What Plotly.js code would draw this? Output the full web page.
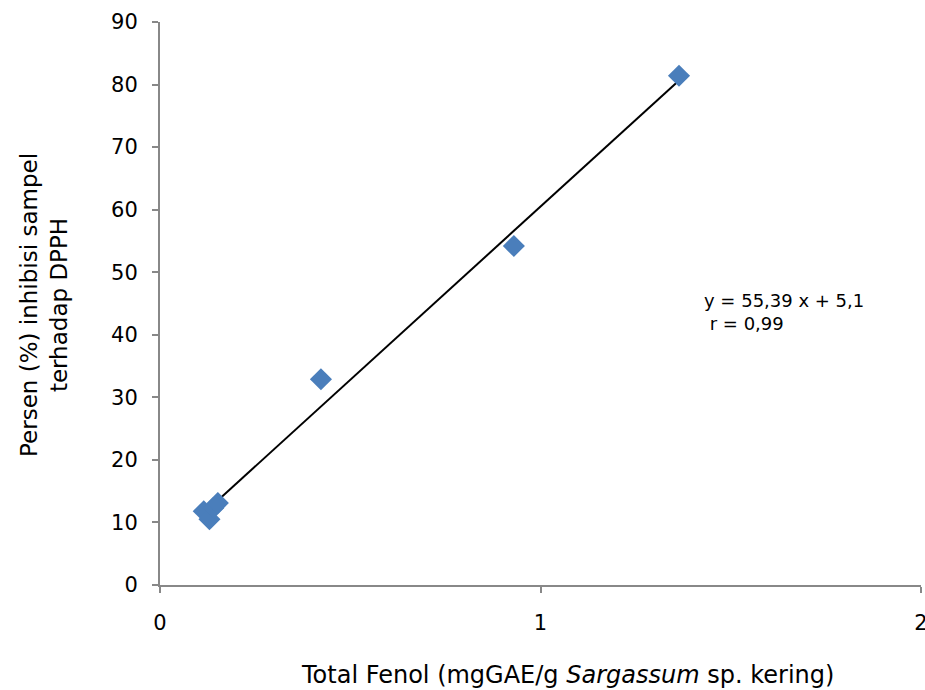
<!DOCTYPE html>
<html>
<head>
<meta charset="utf-8">
<script src="https://cdn.plot.ly/plotly-3.0.1.min.js"></script>
<style>html,body{margin:0;padding:0;background:#fff;}#chart{width:925px;height:690px;}</style>
</head>
<body>
<div id="chart"></div>
<script>
// Data
const totalFenol = [0.115, 0.130, 0.140, 0.152, 0.423, 0.930, 1.364];
const inhibisi   = [11.8, 10.5, 12.3, 13.1, 32.9, 54.2, 81.4];
const slope = 55.39;
const intercept = 5.1;
const eqLines = ["y = 55,39 x + 5,1", " r = 0,99"];

const xMin = Math.min(...totalFenol);
const xMax = Math.max(...totalFenol);
const trendX = [xMin, xMax];
const trendY = trendX.map(v => slope * v + intercept);

const font = "'DejaVu Sans', sans-serif";

const traces = [
  {
    x: trendX, y: trendY, type: "scatter", mode: "lines",
    line: {color: "#000000", width: 2},
    hoverinfo: "skip", showlegend: false
  },
  {
    x: totalFenol, y: inhibisi, type: "scatter", mode: "markers",
    marker: {symbol: "diamond", size: 17, color: "#4A7EBB", line: {width: 0}},
    showlegend: false
  }
];

const layout = {
  width: 925, height: 690,
  margin: {l: 160, r: 4, t: 22, b: 105},
  paper_bgcolor: "#ffffff", plot_bgcolor: "#ffffff",
  font: {family: font, size: 18, color: "#000000"},
  showlegend: false,
  xaxis: {
    range: [0, 2], dtick: 1, tick0: 0,
    showgrid: false, zeroline: false,
    showline: true, linecolor: "#888888", linewidth: 2,
    ticks: "outside", ticklen: 6, tickwidth: 2, tickcolor: "#888888",
    ticklabelstandoff: 12, ticklabeloverflow: "allow",
    tickfont: {family: font, size: 21, color: "#000"}
  },
  yaxis: {
    range: [0, 90], dtick: 10, tick0: 0,
    showgrid: false, zeroline: false,
    showline: true, linecolor: "#888888", linewidth: 2,
    ticks: "outside", ticklen: 6, tickwidth: 2, tickcolor: "#888888",
    ticklabelstandoff: 10,
    tickfont: {family: font, size: 21, color: "#000"}
  },
  annotations: [
    {
      xref: "paper", yref: "paper", x: (567 - 160) / 761, y: -(675 - 585) / 563,
      xanchor: "center", yanchor: "middle", showarrow: false,
      text: "Total Fenol (mgGAE/g <i>Sargassum</i> sp. kering)",
      font: {family: font, size: 24, color: "#000"}
    },
    {
      xref: "paper", yref: "paper", x: -(160 - 44) / 761, y: (585 - 305) / 563,
      xanchor: "center", yanchor: "middle", showarrow: false, textangle: -90,
      text: "Persen (%) inhibisi sampel<br>terhadap DPPH",
      font: {family: font, size: 23, color: "#000"}
    },
    {
      xref: "paper", yref: "paper", x: (702 - 160) / 761, y: (585 - 312) / 563,
      xanchor: "left", yanchor: "middle", showarrow: false, align: "left",
      text: eqLines.join("<br>"),
      font: {family: font, size: 18, color: "#000"}
    }
  ]
};

Plotly.newPlot("chart", traces, layout, {displayModeBar: false, staticPlot: true});
</script>
</body>
</html>
